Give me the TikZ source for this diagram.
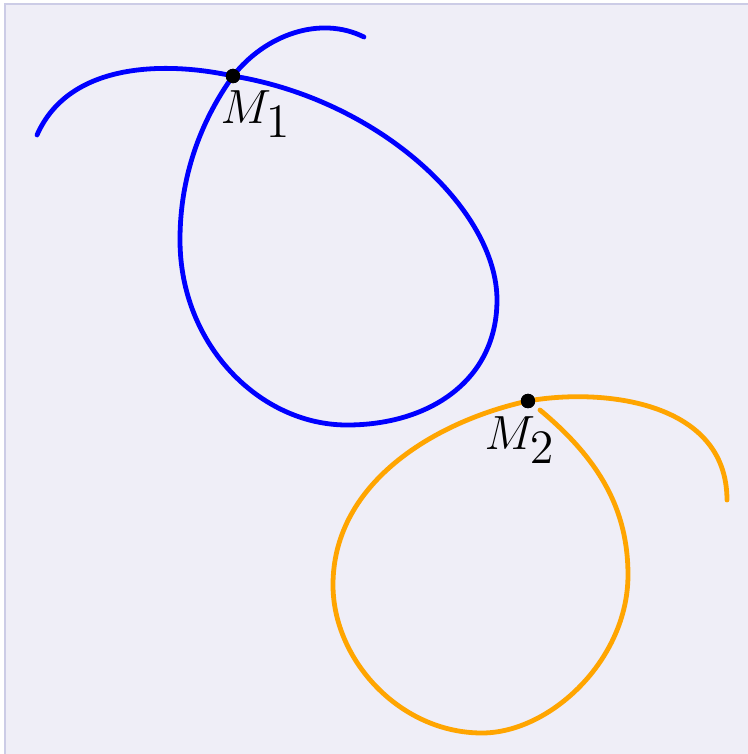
\documentclass[tikz,border=0pt]{standalone}
\usepackage{tikz}

\definecolor{panelfill}{RGB}{239,238,247}
\definecolor{paneldraw}{RGB}{204,204,230}
\definecolor{curveorange}{RGB}{255,165,0}

\begin{document}
\begin{tikzpicture}[
  x=0.25pt, y=-0.25pt,
  panel/.style={draw=paneldraw, fill=panelfill, line width=0.65pt},
  loopcurve/.style={line width=1.2pt, line cap=round},
  dotpt/.style={circle, fill=black, inner sep=0pt, minimum size=3.6pt},
  ptlabel/.style={font=\fontsize{12.5}{15}\selectfont, inner sep=0pt},
]

\useasboundingbox (0,0) rectangle (748,754);

% Background panel
\draw[panel] (5,4) rectangle (760,766);

% Double points
\node[dotpt] (M1) at (233,76) {};
\node[dotpt] (M2) at (528,401) {};

% Blue curve with its loop
\draw[loopcurve, blue] (37,135) .. controls (70,60) and (170,62) .. (M1.center)
  .. controls (380,100) and (497,210) .. (497,300)
  .. controls (497,380) and (430,425) .. (347,425)
  .. controls (260,425) and (180,345) .. (180,240)
  .. controls (180,170) and (205,115) .. (M1.center)
  .. controls (265,35) and (320,15) .. (364,37);

% Orange curve with its loop
\draw[loopcurve, curveorange] (540,410) .. controls (600,460) and (628,510) .. (628,575)
  .. controls (628,660) and (550,733) .. (482,733)
  .. controls (400,733) and (333,660) .. (333,585)
  .. controls (333,480) and (440,420) .. (M2.center)
  .. controls (600,388) and (727,400) .. (727,500);

\node[dotpt] at (M1) {};
\node[dotpt] at (M2) {};

% Labels
\node[ptlabel] (L1) at (256,114) {$M_{\textstyle 1}$};
\node[ptlabel] (L2) at (520,440) {$M_{\textstyle 2}$};

\end{tikzpicture}
\end{document}
